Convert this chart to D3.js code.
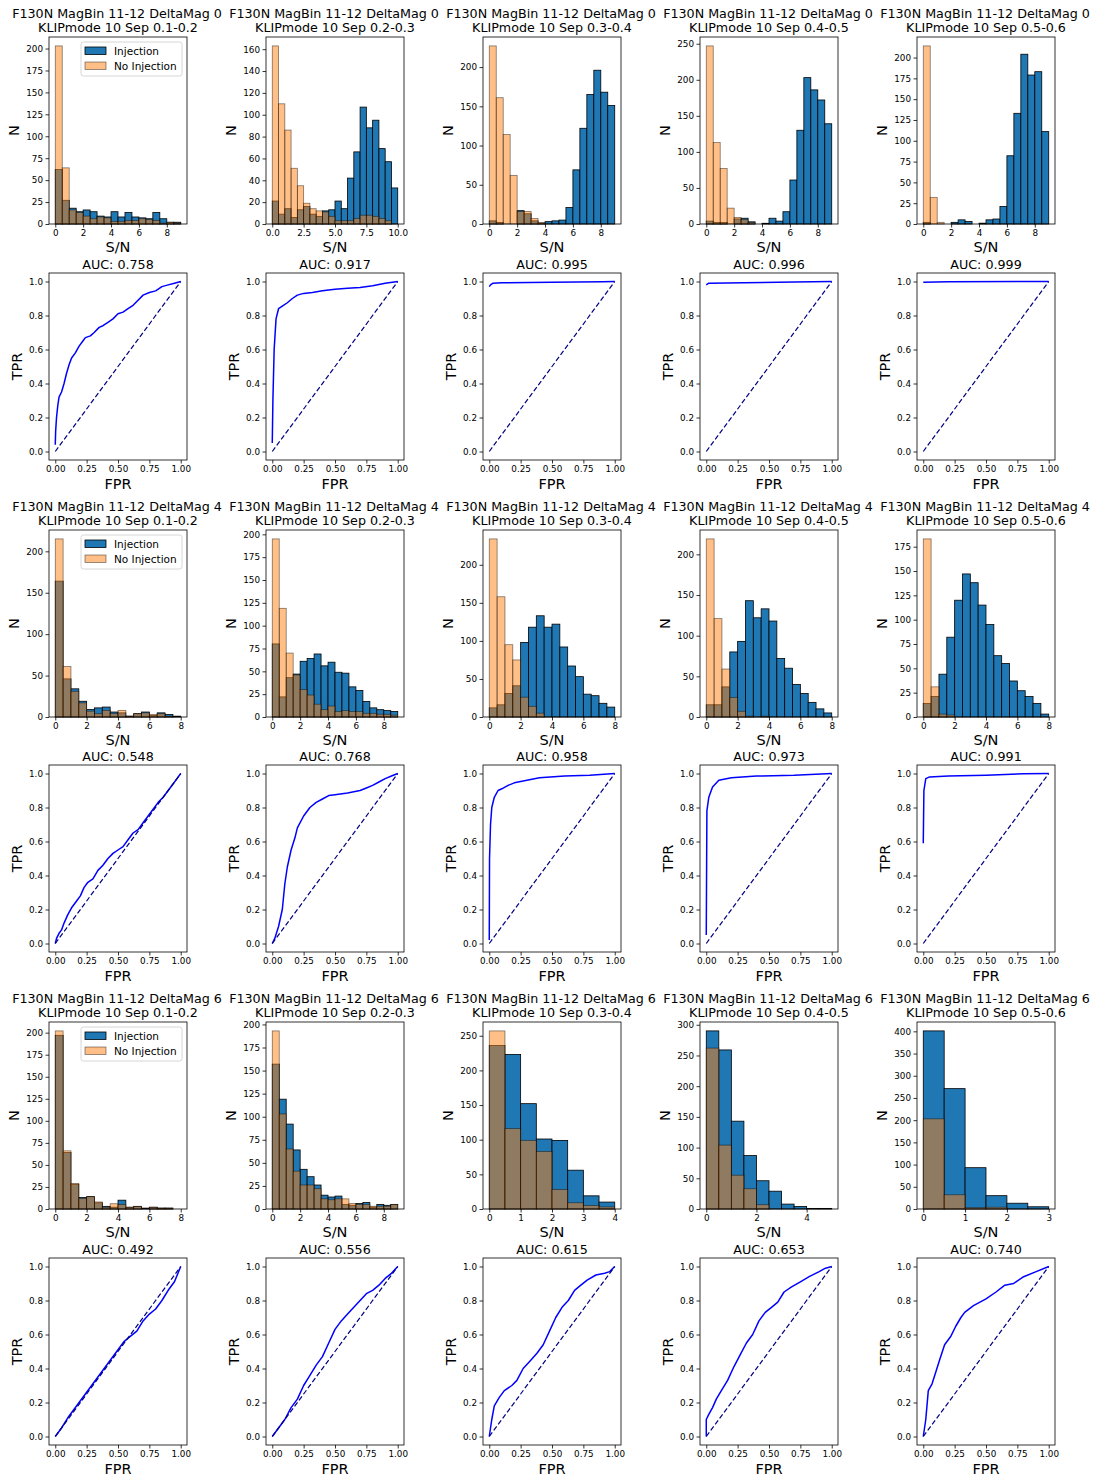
<!DOCTYPE html>
<html><head><meta charset="utf-8">
<script src="https://cdn.jsdelivr.net/npm/d3@7"></script>
<style>body{margin:0;background:#fff} svg{display:block} text{font-family:"DejaVu Sans",sans-serif;fill:#000}</style>
</head><body><svg id="c" width="1097" height="1478"></svg>
<script>
// ---------------- DATA ----------------
const filterName = "F130N";
const magBin = "11-12";
const klipMode = "10";
const deltaMags = ["0", "4", "6"];
const sepBins = ["0.1-0.2", "0.2-0.3", "0.3-0.4", "0.4-0.5", "0.5-0.6"];
const binWidth = 0.5;

// Injection counts per bin (bins start at 0, width 0.5) — rows: DeltaMag 0, 4, 6
const injCounts = [
  [
    [62, 27, 18, 14, 16, 14, 9, 8, 14, 8, 13, 8, 7, 6, 13, 6, 2, 2],
    [21, 9, 14, 6, 13, 16, 9, 7, 12, 13, 21, 14, 42, 66, 107, 88, 95, 69, 57, 33],
    [4, 2, 0, 0, 17, 13, 4, 1, 3, 4, 5, 21, 69, 122, 165, 196, 168, 151],
    [4, 2, 2, 0, 7, 8, 3, 0, 1, 8, 4, 17, 61, 130, 203, 186, 172, 139],
    [2, 0, 0, 0, 2, 5, 3, 0, 1, 5, 6, 21, 82, 133, 204, 179, 183, 111]
  ],
  [
    [164, 46, 34, 19, 9, 11, 12, 6, 5, 1, 4, 6, 2, 5, 3, 1],
    [80, 22, 43, 47, 61, 64, 69, 56, 60, 49, 48, 33, 29, 17, 10, 8, 7, 6],
    [12, 16, 31, 41, 98, 118, 133, 118, 122, 92, 67, 53, 30, 28, 18, 13],
    [15, 15, 37, 80, 93, 143, 122, 133, 118, 72, 60, 40, 29, 18, 10, 5],
    [14, 21, 44, 82, 120, 147, 138, 115, 95, 63, 55, 37, 27, 21, 14, 3]
  ],
  [
    [197, 64, 28, 13, 14, 7, 3, 2, 10, 2, 3, 1, 2, 1, 1, 0],
    [157, 119, 92, 64, 43, 35, 26, 15, 13, 14, 5, 4, 6, 7, 2, 5, 4, 5],
    [236, 223, 152, 101, 99, 56, 19, 10],
    [290, 259, 143, 87, 46, 29, 8, 4, 1, 1],
    [401, 271, 93, 30, 13, 5]
  ]
];

// No-injection counts per bin
const noInjCounts = [
  [
    [203, 64, 16, 13, 9, 6, 8, 7, 3, 3, 4, 4, 6, 5, 4, 1, 2, 1],
    [163, 110, 86, 51, 35, 19, 14, 12, 11, 7, 3, 3, 3, 5, 8, 8, 7, 5, 3, 0],
    [227, 161, 114, 62, 16, 16, 7, 2, 0, 0, 0, 0, 0, 0, 0, 0, 0, 0],
    [247, 113, 77, 22, 9, 6, 2, 0, 0, 0, 0, 0, 0, 0, 0, 0, 0, 0],
    [214, 32, 2, 0, 0, 0, 0, 0, 0, 0, 0, 0, 0, 0, 0, 0, 0, 0]
  ],
  [
    [215, 61, 31, 17, 7, 4, 8, 4, 8, 1, 4, 5, 3, 4, 1, 0],
    [195, 119, 70, 46, 30, 24, 14, 8, 12, 6, 7, 6, 6, 4, 4, 3, 3, 2],
    [234, 158, 95, 75, 26, 14, 5, 0, 0, 0, 0, 0, 0, 0, 0, 0],
    [219, 121, 59, 24, 7, 1, 0, 1, 0, 0, 0, 0, 0, 0, 0, 0],
    [183, 31, 3, 2, 0, 0, 0, 0, 0, 0, 0, 0, 0, 0, 0, 0]
  ],
  [
    [202, 66, 29, 12, 14, 8, 2, 6, 5, 2, 3, 0, 2, 1, 1, 0],
    [193, 103, 65, 41, 26, 26, 22, 11, 10, 11, 11, 6, 5, 5, 3, 3, 3, 5],
    [257, 116, 99, 83, 28, 9, 5, 3],
    [262, 104, 55, 33, 7, 0, 0, 0, 0, 0],
    [203, 32, 3, 4, 0, 0]
  ]
];

const histXTickStep = [[2, 2.5, 2, 2, 2], [2, 2, 2, 2, 2], [2, 2, 1, 2, 1]];
const histYTickStep = [[25, 20, 50, 50, 25], [50, 25, 50, 50, 25], [25, 25, 50, 50, 50]];

const aucValues = [
  ["0.758", "0.917", "0.995", "0.996", "0.999"],
  ["0.548", "0.768", "0.958", "0.973", "0.991"],
  ["0.492", "0.556", "0.615", "0.653", "0.740"]
];

// ROC curves: [FPR, TPR] points
const rocCurves = [
  [
    [[0,0.04],[0.003,0.12],[0.01,0.2],[0.02,0.27],[0.03,0.32],[0.05,0.35],[0.07,0.4],[0.09,0.46],[0.11,0.51],[0.13,0.55],[0.16,0.58],[0.19,0.62],[0.22,0.65],[0.24,0.67],[0.28,0.68],[0.31,0.7],[0.35,0.73],[0.38,0.74],[0.42,0.76],[0.46,0.78],[0.5,0.81],[0.54,0.82],[0.58,0.84],[0.62,0.86],[0.66,0.89],[0.7,0.92],[0.75,0.935],[0.8,0.945],[0.85,0.97],[0.9,0.98],[0.95,0.99],[1,1]],
    [[0,0.05],[0.005,0.3],[0.015,0.6],[0.03,0.78],[0.05,0.84],[0.08,0.855],[0.12,0.875],[0.16,0.9],[0.2,0.92],[0.25,0.93],[0.32,0.935],[0.4,0.945],[0.5,0.955],[0.6,0.96],[0.7,0.965],[0.8,0.975],[0.9,0.99],[1,1]],
    [[0,0.97],[0.01,0.98],[0.03,0.99],[0.1,0.992],[0.5,0.995],[0.9,0.998],[1,1]],
    [[0,0.98],[0.02,0.99],[0.3,0.993],[0.7,0.997],[1,1]],
    [[0,0.995],[0.2,0.998],[1,1]]
  ],
  [
    [[0,0],[0.01,0.03],[0.03,0.06],[0.05,0.08],[0.07,0.12],[0.1,0.17],[0.13,0.21],[0.17,0.25],[0.2,0.28],[0.23,0.33],[0.26,0.36],[0.3,0.38],[0.34,0.43],[0.38,0.46],[0.42,0.5],[0.46,0.53],[0.5,0.55],[0.54,0.57],[0.58,0.61],[0.62,0.65],[0.66,0.67],[0.7,0.71],[0.74,0.75],[0.78,0.79],[0.82,0.83],[0.86,0.86],[0.9,0.9],[0.94,0.94],[0.97,0.97],[1,1]],
    [[0,0],[0.02,0.03],[0.05,0.1],[0.08,0.2],[0.1,0.35],[0.12,0.45],[0.15,0.55],[0.18,0.62],[0.2,0.68],[0.25,0.75],[0.3,0.8],[0.35,0.83],[0.4,0.85],[0.45,0.87],[0.5,0.875],[0.6,0.885],[0.7,0.9],[0.75,0.915],[0.8,0.93],[0.85,0.95],[0.9,0.97],[0.95,0.985],[1,1]],
    [[0,0.02],[0.002,0.5],[0.01,0.7],[0.02,0.8],[0.04,0.86],[0.07,0.9],[0.1,0.91],[0.15,0.93],[0.2,0.945],[0.3,0.96],[0.4,0.975],[0.6,0.985],[0.8,0.99],[1,1]],
    [[0,0.05],[0.005,0.78],[0.02,0.86],[0.05,0.92],[0.1,0.96],[0.2,0.975],[0.4,0.985],[0.7,0.99],[1,1]],
    [[0,0.59],[0.005,0.9],[0.02,0.97],[0.05,0.98],[0.2,0.985],[0.5,0.99],[0.8,0.998],[1,1]]
  ],
  [
    [[0,0],[0.05,0.05],[0.1,0.11],[0.2,0.21],[0.3,0.31],[0.4,0.41],[0.5,0.51],[0.55,0.56],[0.6,0.59],[0.65,0.62],[0.7,0.68],[0.75,0.72],[0.8,0.75],[0.85,0.8],[0.9,0.86],[0.95,0.91],[1,1]],
    [[0,0],[0.1,0.1],[0.15,0.17],[0.2,0.22],[0.25,0.3],[0.3,0.36],[0.35,0.42],[0.4,0.47],[0.45,0.55],[0.5,0.63],[0.55,0.68],[0.6,0.72],[0.65,0.76],[0.7,0.8],[0.75,0.84],[0.8,0.86],[0.85,0.89],[0.9,0.93],[0.95,0.96],[1,1]],
    [[0,0],[0.02,0.1],[0.04,0.18],[0.08,0.23],[0.12,0.27],[0.18,0.3],[0.22,0.33],[0.27,0.4],[0.32,0.44],[0.38,0.49],[0.43,0.54],[0.48,0.62],[0.53,0.7],[0.58,0.76],[0.63,0.8],[0.68,0.86],[0.73,0.89],[0.78,0.92],[0.85,0.95],[0.92,0.96],[0.96,0.97],[1,1]],
    [[0,0],[0,0.1],[0.02,0.13],[0.05,0.17],[0.08,0.22],[0.12,0.27],[0.17,0.33],[0.22,0.41],[0.27,0.48],[0.32,0.55],[0.37,0.6],[0.42,0.68],[0.47,0.73],[0.52,0.76],[0.57,0.79],[0.62,0.85],[0.68,0.88],[0.75,0.91],[0.82,0.94],[0.9,0.97],[0.95,0.99],[1,1]],
    [[0,0],[0.02,0.1],[0.04,0.27],[0.07,0.31],[0.1,0.38],[0.13,0.45],[0.17,0.54],[0.22,0.59],[0.26,0.65],[0.3,0.7],[0.33,0.73],[0.4,0.77],[0.5,0.81],[0.58,0.85],[0.65,0.89],[0.72,0.9],[0.8,0.94],[0.9,0.97],[1,1]]
  ]
];
const rocXTicks = [0, 0.25, 0.5, 0.75, 1.0];
const rocYTicks = [0, 0.2, 0.4, 0.6, 0.8, 1.0];

// ---------------- LAYOUT ----------------
const colLeft = [49, 266, 483, 700, 917];
const W = 138, H = 187;
const histTop = [37, 530, 1022];
const rocTop = [273, 765, 1258];
const tickFont = 8.8, titleFont = 12.7, labelFont = 14.5, legendFont = 10.5;

const svg = d3.select("#c");
svg.append("rect").attr("width", 1097).attr("height", 1478).attr("fill", "#fff");

function styleAxis(sel) {
  sel.select(".domain").remove();
  sel.selectAll(".tick line").attr("stroke", "#000").attr("stroke-width", 0.8);
  sel.selectAll(".tick text").attr("font-size", tickFont).attr("font-family", "DejaVu Sans").attr("fill", "#000");
}

function drawHist(r, c) {
  const inj = injCounts[r][c], noi = noInjCounts[r][c];
  const g = svg.append("g").attr("transform", `translate(${colLeft[c]},${histTop[r]})`);
  const n = inj.length, xmax = n * binWidth;
  const x = d3.scaleLinear().domain([-0.05 * xmax, 1.05 * xmax]).range([0, W]);
  const ymax = 1.05 * Math.max(d3.max(inj), d3.max(noi));
  const y = d3.scaleLinear().domain([0, ymax]).range([H, 0]);

  g.selectAll(".inj").data(inj).join("rect").attr("class", "inj")
    .attr("x", (d, i) => x(i * binWidth)).attr("width", (d, i) => x((i + 1) * binWidth) - x(i * binWidth))
    .attr("y", d => y(d)).attr("height", d => H - y(d))
    .attr("fill", "#1f77b4").attr("stroke", "#000").attr("stroke-width", 0.8);
  g.selectAll(".noi").data(noi).join("rect").attr("class", "noi")
    .attr("x", (d, i) => x(i * binWidth)).attr("width", (d, i) => x((i + 1) * binWidth) - x(i * binWidth))
    .attr("y", d => y(d)).attr("height", d => H - y(d))
    .attr("fill", "#ff7f0e").attr("fill-opacity", 0.5)
    .attr("stroke", "#000").attr("stroke-opacity", 0.5).attr("stroke-width", 0.8);

  const xs = histXTickStep[r][c];
  const xt = d3.range(0, xmax + 1e-9, xs);
  const fmt = (xs % 1 !== 0) ? d3.format(".1f") : d3.format("d");
  g.append("g").attr("transform", `translate(0,${H})`)
    .call(d3.axisBottom(x).tickValues(xt).tickFormat(fmt).tickSize(3.5).tickPadding(2.5)).call(styleAxis);
  const yt = d3.range(0, ymax, histYTickStep[r][c]);
  g.append("g").call(d3.axisLeft(y).tickValues(yt).tickFormat(d3.format("d")).tickSize(3.5).tickPadding(2.5)).call(styleAxis);

  g.append("rect").attr("width", W).attr("height", H).attr("fill", "none").attr("stroke", "#000").attr("stroke-width", 0.8);

  g.append("text").attr("x", W / 2 - 1).attr("y", -19).attr("text-anchor", "middle").attr("font-size", titleFont)
    .text(`${filterName} MagBin ${magBin} DeltaMag ${deltaMags[r]}`);
  g.append("text").attr("x", W / 2).attr("y", -5).attr("text-anchor", "middle").attr("font-size", titleFont)
    .text(`KLIPmode ${klipMode} Sep ${sepBins[c]}`);
  g.append("text").attr("x", W / 2).attr("y", H + 28).attr("text-anchor", "middle").attr("font-size", labelFont).text("S/N");
  g.append("text").attr("transform", `translate(-30,${H / 2}) rotate(-90)`).attr("text-anchor", "middle").attr("font-size", labelFont).text("N");

  if (c === 0) {
    const lg = g.append("g").attr("transform", `translate(${W - 106},5)`);
    lg.append("rect").attr("width", 101).attr("height", 34).attr("rx", 2.5)
      .attr("fill", "#fff").attr("fill-opacity", 0.8).attr("stroke", "#ccc").attr("stroke-width", 0.8);
    lg.append("rect").attr("x", 4).attr("y", 5).attr("width", 21).attr("height", 7.5)
      .attr("fill", "#1f77b4").attr("stroke", "#000").attr("stroke-width", 0.8);
    lg.append("rect").attr("x", 4).attr("y", 20).attr("width", 21).attr("height", 7.5)
      .attr("fill", "#ff7f0e").attr("fill-opacity", 0.5).attr("stroke", "#000").attr("stroke-opacity", 0.5).attr("stroke-width", 0.8);
    lg.append("text").attr("x", 33).attr("y", 12.5).attr("font-size", legendFont).text("Injection");
    lg.append("text").attr("x", 33).attr("y", 27.5).attr("font-size", legendFont).text("No Injection");
  }
}

function drawRoc(r, c) {
  const pts = rocCurves[r][c];
  const g = svg.append("g").attr("transform", `translate(${colLeft[c]},${rocTop[r]})`);
  const x = d3.scaleLinear().domain([-0.05, 1.05]).range([0, W]);
  const y = d3.scaleLinear().domain([-0.05, 1.05]).range([H, 0]);
  g.append("g").attr("transform", `translate(0,${H})`)
    .call(d3.axisBottom(x).tickValues(rocXTicks).tickFormat(d3.format(".2f")).tickSize(3.5).tickPadding(2.5)).call(styleAxis);
  g.append("g").call(d3.axisLeft(y).tickValues(rocYTicks).tickFormat(d3.format(".1f")).tickSize(3.5).tickPadding(2.5)).call(styleAxis);
  const line = d3.line().x(d => x(d[0])).y(d => y(d[1]));
  g.append("path").datum(pts).attr("d", line).attr("fill", "none").attr("stroke", "#0000ff").attr("stroke-width", 1.5).attr("stroke-linejoin", "round");
  g.append("path").datum([[0, 0], [1, 1]]).attr("d", line).attr("fill", "none").attr("stroke", "#000080")
    .attr("stroke-width", 1.2).attr("stroke-dasharray", "5,2.5");
  g.append("rect").attr("width", W).attr("height", H).attr("fill", "none").attr("stroke", "#000").attr("stroke-width", 0.8);
  g.append("text").attr("x", W / 2).attr("y", -4.5).attr("text-anchor", "middle").attr("font-size", titleFont).text(`AUC: ${aucValues[r][c]}`);
  g.append("text").attr("x", W / 2).attr("y", H + 28.5).attr("text-anchor", "middle").attr("font-size", labelFont).text("FPR");
  g.append("text").attr("transform", `translate(-27,${H / 2}) rotate(-90)`).attr("text-anchor", "middle").attr("font-size", labelFont).text("TPR");
}

for (let r = 0; r < 3; r++) {
  for (let c = 0; c < 5; c++) {
    drawHist(r, c);
    drawRoc(r, c);
  }
}
</script></body></html>
